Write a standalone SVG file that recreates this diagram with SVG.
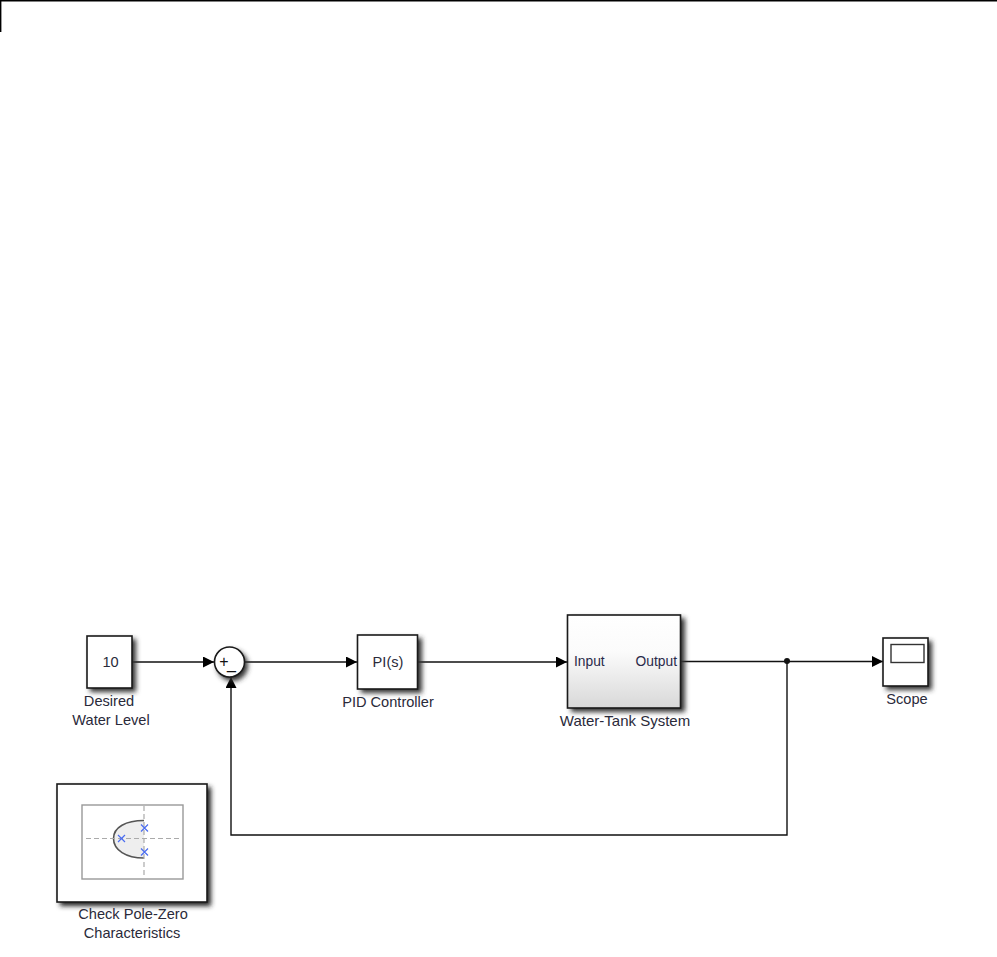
<svg xmlns="http://www.w3.org/2000/svg" width="997" height="957" viewBox="0 0 997 957">
<style>
.b{fill:#fff;stroke:#1a1a1a;stroke-width:1.6}
.t{font-family:"Liberation Sans",Arial,sans-serif;font-size:14.6px;fill:#2a2a3a;text-anchor:middle}
.p{font-family:"Liberation Sans",Arial,sans-serif;font-size:13.8px;fill:#2a2a4a}
.w{fill:none;stroke:#111;stroke-width:1.4}
.o{font-family:"Liberation Sans",Arial,sans-serif;font-size:16px;fill:#111;text-anchor:middle}
</style>
<defs>
<filter id="s" x="-20%" y="-20%" width="150%" height="150%"><feGaussianBlur stdDeviation="2.6"/></filter>
<linearGradient id="g" x1="0" y1="0" x2="0" y2="1"><stop offset="0" stop-color="#fff"/><stop offset="0.4" stop-color="#fbfbfb"/><stop offset="1" stop-color="#d8d8d8"/></linearGradient>
<marker id="a" markerUnits="userSpaceOnUse" markerWidth="11" markerHeight="11" refX="11" refY="5.500" orient="auto"><path d="M0 0L11 5.500L0 11Z" fill="#000"/></marker>
</defs>
<rect width="997" height="957" fill="#fff"/>
<path d="M0 .7H997M.7 0V32" fill="none" stroke="#000" stroke-width="1.4"/>
<g id="connectors">
<path class="w" d="M132 662H214" marker-end="url(#a)"/>
<path class="w" d="M245 662H357" marker-end="url(#a)"/>
<path class="w" d="M418 662H567" marker-end="url(#a)"/>
<path class="w" d="M681 661.500H883" marker-end="url(#a)"/>
<path class="w" d="M787 661V835H231V677" marker-end="url(#a)"/>
<circle cx="787" cy="661" r="3" fill="#111"/>
</g>
<g id="const">
<rect x="90" y="639" width="46" height="53" fill="#333" filter="url(#s)"/>
<rect class="b" x="87" y="636" width="45" height="52"/>
<text class="t" x="110.500" y="667">10</text>
<text class="t" x="109" y="706">Desired</text>
<text class="t" x="111" y="725">Water Level</text>
</g>
<g id="sum">
<circle cx="232.500" cy="665.500" r="15.500" fill="#333" filter="url(#s)"/>
<circle class="b" cx="229.500" cy="662" r="15"/>
<text class="o" x="224" y="667">+</text>
<text class="o" x="231.500" y="669">_</text>
</g>
<g id="pid">
<rect x="361" y="638" width="61" height="55" fill="#333" filter="url(#s)"/>
<rect class="b" x="357.500" y="635" width="60" height="54"/>
<text class="t" x="388" y="667">PI(s)</text>
<text class="t" x="388" y="707">PID Controller</text>
</g>
<g id="tank">
<rect x="571" y="618" width="114" height="94" fill="#333" filter="url(#s)"/>
<rect x="567.500" y="615" width="113" height="93" fill="url(#g)" stroke="#1a1a1a" stroke-width="1.6"/>
<text class="p" x="574" y="666">Input</text>
<text class="p" x="677" y="666" text-anchor="end">Output</text>
<text class="t" x="625" y="726" style="font-size:15px">Water-Tank System</text>
</g>
<g id="scope">
<rect x="886" y="641" width="46" height="49" fill="#333" filter="url(#s)"/>
<rect class="b" x="883" y="638" width="45" height="48"/>
<rect x="891" y="644.500" width="33" height="18" fill="#fff" stroke="#333" stroke-width="1.4"/>
<text class="t" x="907" y="704">Scope</text>
</g>
<g id="check">
<rect x="60" y="787" width="151" height="119" fill="#222" filter="url(#s)"/>
<rect class="b" x="57" y="784" width="150" height="118"/>
<rect x="82" y="805" width="101" height="74" fill="#fff" stroke="#999" stroke-width="1.4"/>
<path d="M144 820.500C126 820.500 113.500 827 113.500 838.500C113.500 850 126 858 144 858Z" fill="#eee"/>
<path d="M144 820.500C126 820.500 113.500 827 113.500 838.500C113.500 850 126 858 144 858" fill="none" stroke="#555" stroke-width="1.6"/>
<path d="M86 838.500H182M144 806V878" fill="none" stroke="#aaa" stroke-width="1.2" stroke-dasharray="5 3"/>
<path d="M141 824.500l7 7m0-7l-7 7M118 835l7 7m0-7l-7 7M141 848.500l7 7m0-7l-7 7" fill="none" stroke="#4a6cf0" stroke-width="1.200"/>
<text class="t" x="133" y="919">Check Pole-Zero</text>
<text class="t" x="132" y="938">Characteristics</text>
</g>
</svg>
